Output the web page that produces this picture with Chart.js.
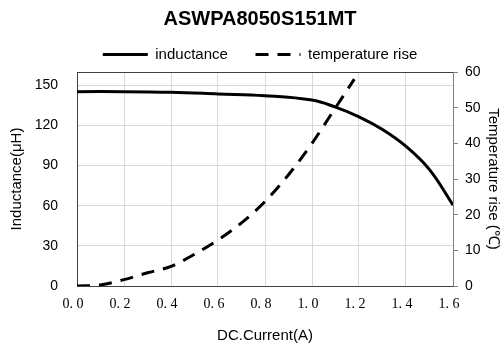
<!DOCTYPE html>
<html>
<head>
<meta charset="utf-8">
<script src="https://cdn.jsdelivr.net/npm/chart.js@4.4.0/dist/chart.umd.min.js"></script>
<style>
  html, body { margin: 0; padding: 0; background: #fff; }
  #wrap { width: 504px; height: 349px; }
</style>
</head>
<body>
<div id="wrap"><canvas id="chart"></canvas></div>
<script>
// data
const currentL = [0, 0.2, 0.4, 0.6, 0.8, 1.0, 1.1, 1.2, 1.3, 1.4, 1.5, 1.6];
const inductance = [145.3, 145.3, 144.8, 143.6, 142.3, 139, 133.7, 126.5, 117, 104.4, 87, 60.5];
const currentT = [0, 0.1, 0.2, 0.3, 0.4, 0.5, 0.6, 0.7, 0.8, 0.9, 1.0, 1.1, 1.18];
const tempRise = [0, 0.3, 1.8, 3.7, 5.5, 8.9, 12.9, 17.7, 23.7, 31.2, 40, 50, 58];
const inductanceTicks = [0, 30, 60, 90, 120, 150];

const sans = "'Liberation Sans', Arial, sans-serif";

// top border of the plot box
const frame = {
  id: "frame",
  afterDraw(chart) {
    const { ctx, chartArea } = chart;
    ctx.save();
    ctx.strokeStyle = "#404040";
    ctx.lineWidth = 1;
    ctx.beginPath();
    ctx.moveTo(chartArea.left, chartArea.top + 0.5);
    ctx.lineTo(chartArea.right, chartArea.top + 0.5);
    ctx.stroke();
    ctx.restore();
  },
};

new Chart(document.getElementById("chart"), {
  type: "line",
  data: {
    datasets: [
      {
        label: "inductance",
        data: currentL.map((x, i) => ({ x: x, y: inductance[i] })),
        borderColor: "#000",
        backgroundColor: "#000",
        borderWidth: 3,
        pointRadius: 0,
        tension: 0.4,
        yAxisID: "y",
      },
      {
        label: "temperature rise",
        data: currentT.map((x, i) => ({ x: x, y: tempRise[i] })),
        borderColor: "#000",
        backgroundColor: "#000",
        borderWidth: 3,
        borderDash: [13, 9],
        pointRadius: 0,
        cubicInterpolationMode: "monotone",
        yAxisID: "y1",
      },
    ],
  },
  options: {
    responsive: true,
    maintainAspectRatio: false,
    animation: false,
    layout: { padding: { left: 16, right: 0, top: 0, bottom: 0 } },
    plugins: {
      title: {
        display: true,
        text: "ASWPA8050S151MT",
        color: "#000",
        font: { family: sans, size: 20, weight: "bold" },
        padding: { top: 7, bottom: 5 },
      },
      legend: {
        position: "top",
        labels: {
          color: "#000",
          font: { family: sans, size: 15 },
          usePointStyle: true,
          pointStyle: "line",
          pointStyleWidth: 45,
          boxWidth: 45,
          padding: 11,
          // point style labels lose the dataset dash, put it back
          generateLabels: (chart) => {
            const items = Chart.defaults.plugins.legend.labels.generateLabels(chart);
            items.forEach((it) => {
              const ds = chart.data.datasets[it.datasetIndex];
              it.lineDash = ds.borderDash || [];
              it.lineWidth = 3;
              it.strokeStyle = "#000";
              if (it.datasetIndex === 0) it.text = it.text + "    ";
            });
            return items;
          },
        },
      },
      tooltip: { enabled: false },
    },
    scales: {
      x: {
        type: "linear",
        min: 0,
        max: 1.6,
        ticks: {
          stepSize: 0.2,
          color: "#000",
          padding: 10,
          labelOffset: -4,
          font: { family: "'Liberation Serif', serif", size: 14 },
          callback: (v) => v.toFixed(1).replace(".", ". "),
        },
        grid: { color: "#d9d9d9", drawTicks: false },
        border: { color: "#404040", width: 1 },
        title: {
          display: true,
          text: "DC.Current(A)",
          color: "#000",
          font: { family: sans, size: 15 },
          padding: { top: 0, bottom: 4 },
        },
        afterFit: (s) => { s.height = 63; },
      },
      y: {
        position: "left",
        min: 0,
        max: 160,
        afterBuildTicks: (axis) => {
          axis.ticks = inductanceTicks.map((v) => ({ value: v }));
        },
        ticks: {
          color: "#000",
          padding: 19,
          font: { family: sans, size: 14 },
        },
        grid: { color: "#d9d9d9", drawTicks: false },
        border: { color: "#404040", width: 1 },
        title: {
          display: true,
          text: "Inductance(μH)",
          color: "#000",
          font: { family: sans, size: 15 },
          padding: { top: -8, bottom: 0 },
        },
        afterFit: (s) => { s.width = 61; },
      },
      y1: {
        position: "right",
        min: 0,
        max: 60,
        ticks: {
          stepSize: 10,
          color: "#000",
          padding: 7,
          font: { family: sans, size: 14 },
        },
        grid: { drawOnChartArea: false, color: "#808080", tickLength: 5 },
        border: { color: "#808080", width: 1 },
        title: {
          display: true,
          text: "Temperature rise (℃)",
          color: "#000",
          font: { family: sans, size: 15 },
          padding: { top: 2, bottom: 0 },
        },
        afterFit: (s) => { s.width = 51; },
      },
    },
  },
  plugins: [frame],
});
</script>
</body>
</html>
